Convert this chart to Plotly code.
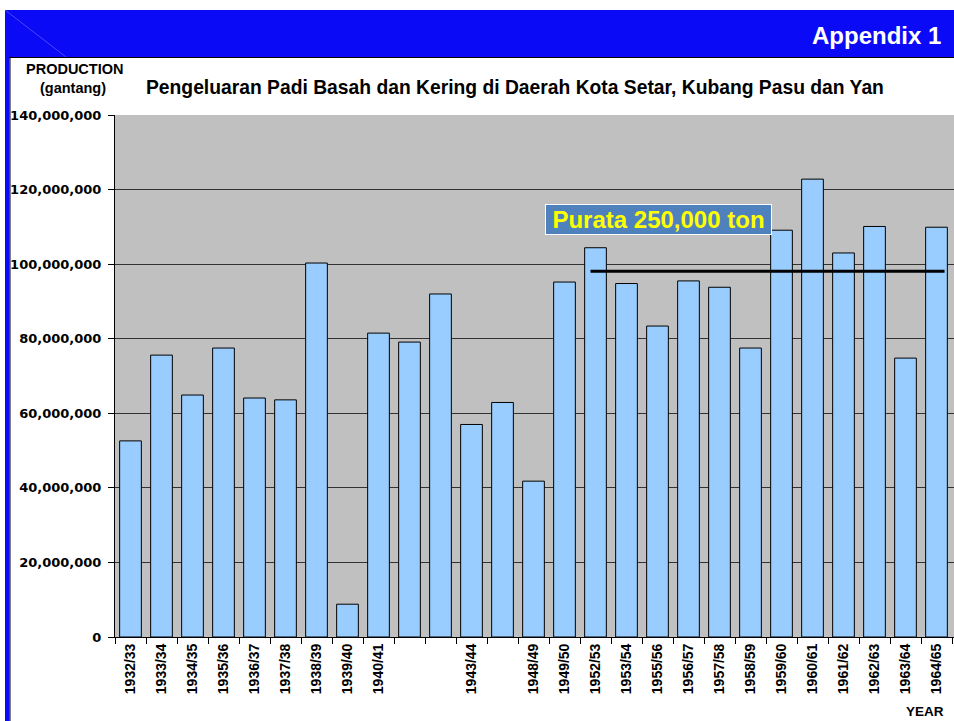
import plotly.graph_objects as go

# ---- data ----
years = ["1932/33", "1933/34", "1934/35", "1935/36", "1936/37", "1937/38", "1938/39",
         "1939/40", "1940/41", "", "", "1943/44", "", "1948/49", "1949/50", "1952/53",
         "1953/54", "1955/56", "1956/57", "1957/58", "1958/59", "1959/60", "1960/61",
         "1961/62", "1962/63", "1963/64", "1964/65"]
production = [52.6e6, 75.6e6, 64.9e6, 77.5e6, 64.1e6, 63.6e6, 100.3e6,
              8.8e6, 81.5e6, 79.1e6, 92.0e6, 57.0e6, 62.9e6, 41.8e6, 95.2e6, 104.4e6,
              94.8e6, 83.4e6, 95.5e6, 93.8e6, 77.5e6, 109.1e6, 122.8e6,
              103.0e6, 110.1e6, 74.8e6, 109.9e6]
average_value = 98.1e6
avg_from, avg_to = "1952/53", "1964/65"
y_ticks = [0, 20e6, 40e6, 60e6, 80e6, 100e6, 120e6, 140e6]
y_ticklabels = ["0", "20,000,000", "40,000,000", "60,000,000", "80,000,000",
                "100,000,000", "120,000,000", "140,000,000"]

W, H = 954, 721
L, R, T, B = 115, 0, 115, 84
PW, PH = W - L - R, H - T - B


def px(x):
    return (x - L) / PW


def py(y):
    return (H - B - y) / PH


idx = list(range(len(years)))
i0 = years.index(avg_from)
i1 = years.index(avg_to)

fig = go.Figure()
fig.add_trace(go.Bar(
    x=idx, y=production, width=0.7,
    marker=dict(color="#99CCFF", line=dict(color="black", width=1)),
    hoverinfo="y",
))

ARIAL = "Liberation Sans, Arial, sans-serif"
shapes = [
    # header band
    dict(type="rect", xref="paper", yref="paper", x0=px(5), x1=px(954), y0=py(57), y1=py(10),
         fillcolor="#0A0AF6", line=dict(width=0), layer="below"),
    dict(type="line", xref="paper", yref="paper", x0=px(5), x1=px(66), y0=py(10), y1=py(57),
         line=dict(color="#4747FF", width=1)),
    dict(type="line", xref="paper", yref="paper", x0=px(9), x1=px(954), y0=py(57.5), y1=py(57.5),
         line=dict(color="black", width=1)),
    # left strip
    dict(type="rect", xref="paper", yref="paper", x0=px(5), x1=px(9.5), y0=py(721), y1=py(57),
         fillcolor="#0A0AF6", line=dict(width=0), layer="below"),
    dict(type="line", xref="paper", yref="paper", x0=px(10), x1=px(10), y0=py(721), y1=py(57),
         line=dict(color="black", width=1)),
    # average line
    dict(type="line", xref="x", yref="y", x0=i0 - 0.16, x1=i1 + 0.26,
         y0=average_value, y1=average_value, line=dict(color="black", width=3)),
]

annotations = [
    dict(text="<b>Appendix 1</b>", xref="paper", yref="paper", x=px(943), y=py(35),
         xanchor="right", yanchor="middle", showarrow=False,
         font=dict(family=ARIAL, size=24, color="white")),
    dict(text="<b>PRODUCTION</b>", xref="paper", yref="paper", x=px(74), y=py(69),
         xanchor="center", yanchor="middle", showarrow=False,
         font=dict(family=ARIAL, size=14.5, color="black")),
    dict(text="<b>(gantang)</b>", xref="paper", yref="paper", x=px(73), y=py(88),
         xanchor="center", yanchor="middle", showarrow=False,
         font=dict(family=ARIAL, size=14.5, color="black")),
    dict(text="<b>Pengeluaran Padi Basah dan Kering di Daerah Kota Setar, Kubang Pasu dan Yan</b>",
         xref="paper", yref="paper", x=px(515), y=py(87),
         xanchor="center", yanchor="middle", showarrow=False,
         font=dict(family=ARIAL, size=19.3, color="black")),
    dict(text="<b>YEAR</b>", xref="paper", yref="paper", x=px(946), y=py(711),
         xanchor="right", yanchor="middle", showarrow=False,
         font=dict(family=ARIAL, size=13.5, color="black")),
    dict(text="<b>Purata 250,000 ton</b>", xref="paper", yref="paper", x=px(658.5), y=py(219),
         xanchor="center", yanchor="middle", showarrow=False,
         width=223, height=27, borderpad=1, borderwidth=1, bordercolor="white",
         bgcolor="#4F81BD",
         font=dict(family=ARIAL, size=24, color="#FFFF00")),
]

fig.update_layout(
    width=W, height=H,
    margin=dict(l=L, r=R, t=T, b=B, pad=0),
    paper_bgcolor="white", plot_bgcolor="#C0C0C0",
    showlegend=False, bargap=0.3,
    shapes=shapes, annotations=annotations,
    xaxis=dict(
        range=[-0.5, len(years) - 0.5 + 2 / 31], tickmode="array", tickvals=idx, ticktext=years,
        tickangle=-90, ticks="", showgrid=False, zeroline=False,
        showline=True, linecolor="black", linewidth=1,
        tickfont=dict(family=ARIAL, size=14, color="black", weight="bold"),
        minor=dict(tickmode="array", tickvals=[i - 0.5 for i in range(len(years) + 1)],
                   ticks="outside", ticklen=6, tickcolor="black", tickwidth=1, showgrid=False),
        fixedrange=True,
    ),
    yaxis=dict(
        range=[0, 140e6], tickmode="array", tickvals=y_ticks, ticktext=y_ticklabels,
        ticks="outside", ticklen=6, tickcolor="black", ticklabelstandoff=4,
        showgrid=True, gridcolor="#333333", gridwidth=1, zeroline=False,
        showline=True, linecolor="black", linewidth=1,
        tickfont=dict(family="DejaVu Sans, Verdana, sans-serif", size=13, color="black", weight="bold"),
        fixedrange=True,
    ),
)

fig.write_html("out.html", config={"displayModeBar": False},
               post_script="document.body.style.margin='0';document.body.style.overflow='hidden';")
